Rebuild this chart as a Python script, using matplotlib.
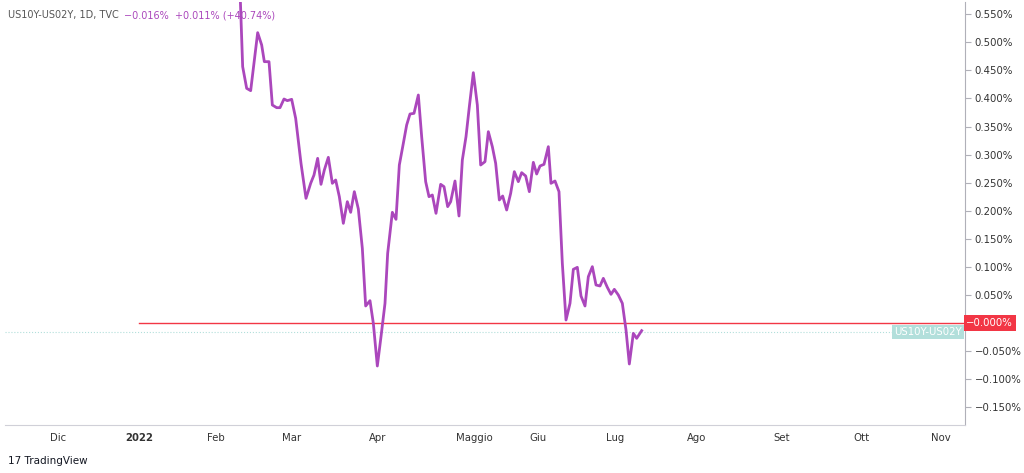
import matplotlib
matplotlib.use("Agg")
import matplotlib.pyplot as plt
import numpy as np

# x positions (chart pixel units), values in percent
xs_z = [120,128,140,152,173,185,193,207,217,230,240,252,262,275,287,303,318,332,342,353,363,373,385,397,407,418,430,442,452,463,475,487,497,510,520,532,543,555,563,577,588,598,610,620,630,642,655,665,677,687,697,708,722,732,743,752,765,777,787,798,808,820,832,842,855,865,877,887,898,908,920,932,943,955,965,977,988,1000,1010,1020,1032,1045,1053,1065,1077,1087,1098,1110,1120,1132,1143,1155,1165,1177,1188,1200,1210,1222,1233,1243,1255,1267,1278,1288,1300,1310,1325]
ys_z = [-30,200,265,272,98,135,185,185,315,323,323,297,302,298,355,490,595,550,525,475,553,510,472,550,540,590,670,605,637,575,627,745,918,902,970,1098,1010,910,760,637,658,495,430,375,342,340,285,410,545,590,585,640,553,560,620,605,543,648,480,410,320,218,315,495,485,395,440,490,600,588,630,580,515,545,518,528,575,487,522,498,493,440,550,543,575,790,960,910,808,802,888,918,830,800,855,858,835,862,883,868,885,910,990,1092,1000,1015,992]
x_pos = [200 + v / 3 for v in xs_z]
values = [(323 - v / 3) / 561.4 for v in ys_z]

month_labels = ["Dic", "2022", "Feb", "Mar", "Apr", "Maggio", "Giu", "Lug", "Ago", "Set", "Ott", "Nov"]
month_pos = [58, 139, 216, 292, 378, 474, 538, 615, 697, 782, 862, 941]
ytick_vals = [0.55, 0.5, 0.45, 0.4, 0.35, 0.3, 0.25, 0.2, 0.15, 0.1, 0.05, -0.05, -0.1, -0.15]
last_val = -0.016

W, H = 1024, 473
fig = plt.figure(figsize=(W / 100, H / 100), dpi=100)
ax = fig.add_axes([5 / W, 1 - 425 / H, 960 / W, 423 / H])
ax.set_xlim(5, 965)
ax.set_ylim((323 - 425) / 561.4, (323 - 2) / 561.4)

purple = "#ab47bc"
ax.plot(x_pos, values, color=purple, lw=2.0, solid_joinstyle="round", zorder=3)
ax.axhline(0, xmin=(139 - 5) / 960, xmax=1, color="#f23645", lw=1.0, zorder=2)
ax.axhline(last_val, xmin=0, xmax=(895 - 5) / 960, color="#b2dfdb", lw=0.8, ls=":", zorder=1)

for s in ["top", "left"]:
    ax.spines[s].set_visible(False)
ax.spines["right"].set_color("#b0b0b8")
ax.spines["bottom"].set_color("#d0d0d8")
ax.yaxis.tick_right()
ax.set_yticks(ytick_vals)
ax.set_yticklabels([f"{v:.3f}%".replace("-", "−") for v in ytick_vals], fontsize=7.3, color="#333333")
ax.tick_params(axis="y", length=4, color="#b0b0b8", pad=3)
ax.set_xticks(month_pos)
ax.set_xticklabels(month_labels, fontsize=7.3, color="#333333")
for lbl in ax.get_xticklabels():
    if lbl.get_text() == "2022":
        lbl.set_fontweight("bold")
ax.tick_params(axis="x", length=0, pad=6)

ax.text(1.0015, 0, "−0.000%", transform=ax.get_yaxis_transform(), fontsize=7.3, color="white",
        va="center", ha="left", bbox=dict(boxstyle="square,pad=0.25", fc="#f23645", ec="none"), clip_on=False)
ax.text(0.997, last_val, "US10Y-US02Y", transform=ax.get_yaxis_transform(), fontsize=7.3, color="white",
        va="center", ha="right", bbox=dict(boxstyle="square,pad=0.2", fc="#b2dfdb", ec="none"), clip_on=False)

t = fig.text(8 / W, 1 - 15 / H, "US10Y-US02Y, 1D, TVC", fontsize=7, color="#555555", va="center")
fig.add_artist(plt.Annotation("−0.016%  +0.011% (+40.74%)", xy=(1, 0.5), xycoords=t,
                              xytext=(4, 0), textcoords="offset points", fontsize=7,
                              color=purple, va="center", ha="left"))
fig.text(8 / W, 1 - 461 / H, "17 TradingView", fontsize=7.5, color="#131722", va="center")

fig.savefig("out.png", dpi=100, facecolor="white")
